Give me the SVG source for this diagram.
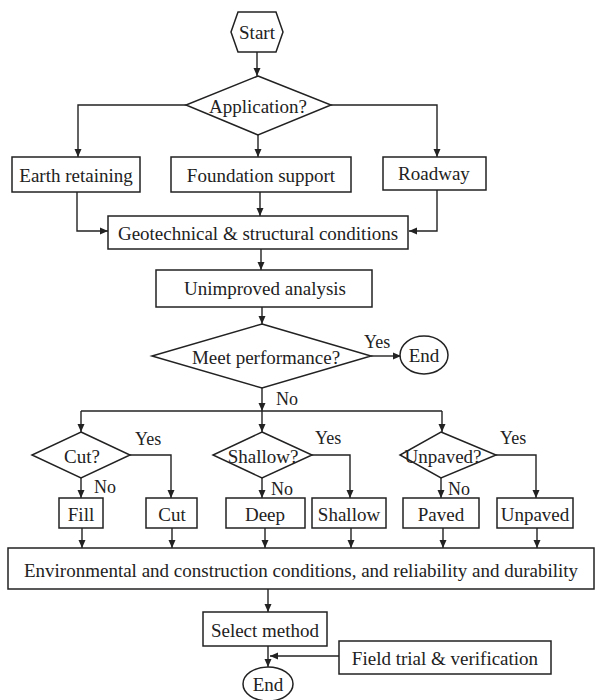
<svg xmlns="http://www.w3.org/2000/svg" width="600" height="700" viewBox="0 0 600 700">
<defs>
<marker id="ah" markerUnits="userSpaceOnUse" markerWidth="9" markerHeight="8" refX="8" refY="4" orient="auto"><path d="M0,0.5 L8,4 L0,7.5 z" fill="#222"/></marker>
<style>
.s{fill:#fff;stroke:#222;stroke-width:1.5}
.c{fill:none;stroke:#222;stroke-width:1.4;marker-end:url(#ah)}
.l{fill:none;stroke:#222;stroke-width:1.4}
text{font-family:"Liberation Serif","Times New Roman",serif;font-size:19px;fill:#222;text-anchor:middle;dominant-baseline:central}
.lb{font-size:18px;text-anchor:start;dominant-baseline:auto}
</style>
</defs>
<rect width="600" height="700" fill="#fff"/>
<g id="connectors">
<path class="c" d="M257,52 V76"/>
<path class="c" d="M186,105 H78 V157"/>
<path class="c" d="M258,135 V157"/>
<path class="c" d="M331,105 H437 V157"/>
<path class="c" d="M77,192 V231 H108"/>
<path class="c" d="M260,192 V216"/>
<path class="c" d="M437,190 V231 H409"/>
<path class="c" d="M261,249 V270"/>
<path class="c" d="M262,307 V324"/>
<path class="c" d="M371,356 H401"/>
<path class="c" d="M262,388 V411"/>
<path class="l" d="M81,411 H442"/>
<path class="c" d="M81,411 V432"/>
<path class="c" d="M262,411 V432"/>
<path class="c" d="M442,411 V432"/>
<path class="c" d="M81,478 V498"/>
<path class="c" d="M130,455 H171 V498"/>
<path class="c" d="M262,478 V498"/>
<path class="c" d="M312,455 H350 V498"/>
<path class="c" d="M441,478 V498"/>
<path class="c" d="M496,455 H536 V498"/>
<path class="c" d="M82,528 V548"/>
<path class="c" d="M172,528 V548"/>
<path class="c" d="M265,528 V548"/>
<path class="c" d="M351,528 V548"/>
<path class="c" d="M443,528 V548"/>
<path class="c" d="M537,528 V548"/>
<path class="c" d="M268,589 V612"/>
<path class="c" d="M268,646 V667"/>
<path class="c" d="M339,656 H270"/>
</g>
<g id="start"><polygon class="s" points="231,32 238,12 276,12 283,32 276,52 238,52"/><text x="257" y="32">Start</text></g>
<g id="application"><polygon class="s" points="258,76 331,105 258,135 186,105"/><text x="258" y="106">Application?</text></g>
<g id="earth"><rect class="s" x="12" y="157" width="128" height="35"/><text x="76" y="175">Earth retaining</text></g>
<g id="foundation"><rect class="s" x="171" y="157" width="180" height="35"/><text x="261" y="175">Foundation support</text></g>
<g id="roadway"><rect class="s" x="383" y="157" width="103" height="33"/><text x="434" y="173">Roadway</text></g>
<g id="geotech"><rect class="s" x="108" y="216" width="300" height="33"/><text x="258" y="233">Geotechnical &amp; structural conditions</text></g>
<g id="unimproved"><rect class="s" x="156" y="270" width="216" height="37"/><text x="265" y="288">Unimproved analysis</text></g>
<g id="meet"><polygon class="s" points="262,324 371,356 262,388 152,356"/><text x="266" y="357">Meet performance?</text></g>
<g id="end1"><ellipse class="s" cx="424" cy="355" rx="24" ry="19"/><text x="424" y="355">End</text></g>
<g id="cutq"><polygon class="s" points="81,432 130,455 81,478 32,455"/><text x="82" y="456">Cut?</text></g>
<g id="shallowq"><polygon class="s" points="262,432 312,455 262,478 213,455"/><text x="263" y="456">Shallow?</text></g>
<g id="unpavedq"><polygon class="s" points="441,432 496,455 441,478 400,455"/><text x="443" y="456">Unpaved?</text></g>
<g id="fill"><rect class="s" x="59" y="498" width="44" height="30"/><text x="81" y="514">Fill</text></g>
<g id="cut"><rect class="s" x="146" y="498" width="51" height="30"/><text x="172" y="514">Cut</text></g>
<g id="deep"><rect class="s" x="226" y="498" width="79" height="30"/><text x="265" y="514">Deep</text></g>
<g id="shallow"><rect class="s" x="312" y="498" width="74" height="30"/><text x="349" y="514">Shallow</text></g>
<g id="paved"><rect class="s" x="403" y="498" width="76" height="30"/><text x="441" y="514">Paved</text></g>
<g id="unpaved"><rect class="s" x="497" y="498" width="76" height="30"/><text x="535" y="514">Unpaved</text></g>
<g id="env"><rect class="s" x="8" y="548" width="586" height="41"/><text x="301" y="570">Environmental and construction conditions, and reliability and durability</text></g>
<g id="select"><rect class="s" x="203" y="612" width="124" height="34"/><text x="265" y="630">Select method</text></g>
<g id="field"><rect class="s" x="339" y="641" width="212" height="33"/><text x="445" y="658">Field trial &amp; verification</text></g>
<g id="end2"><ellipse class="s" cx="268" cy="684" rx="25" ry="17"/><text x="268" y="684">End</text></g>
<g id="labels">
<text class="lb" x="364" y="348">Yes</text>
<text class="lb" x="276" y="405">No</text>
<text class="lb" x="135" y="445">Yes</text>
<text class="lb" x="94" y="493">No</text>
<text class="lb" x="315" y="444">Yes</text>
<text class="lb" x="271" y="495">No</text>
<text class="lb" x="500" y="444">Yes</text>
<text class="lb" x="448" y="495">No</text>
</g>
</svg>
